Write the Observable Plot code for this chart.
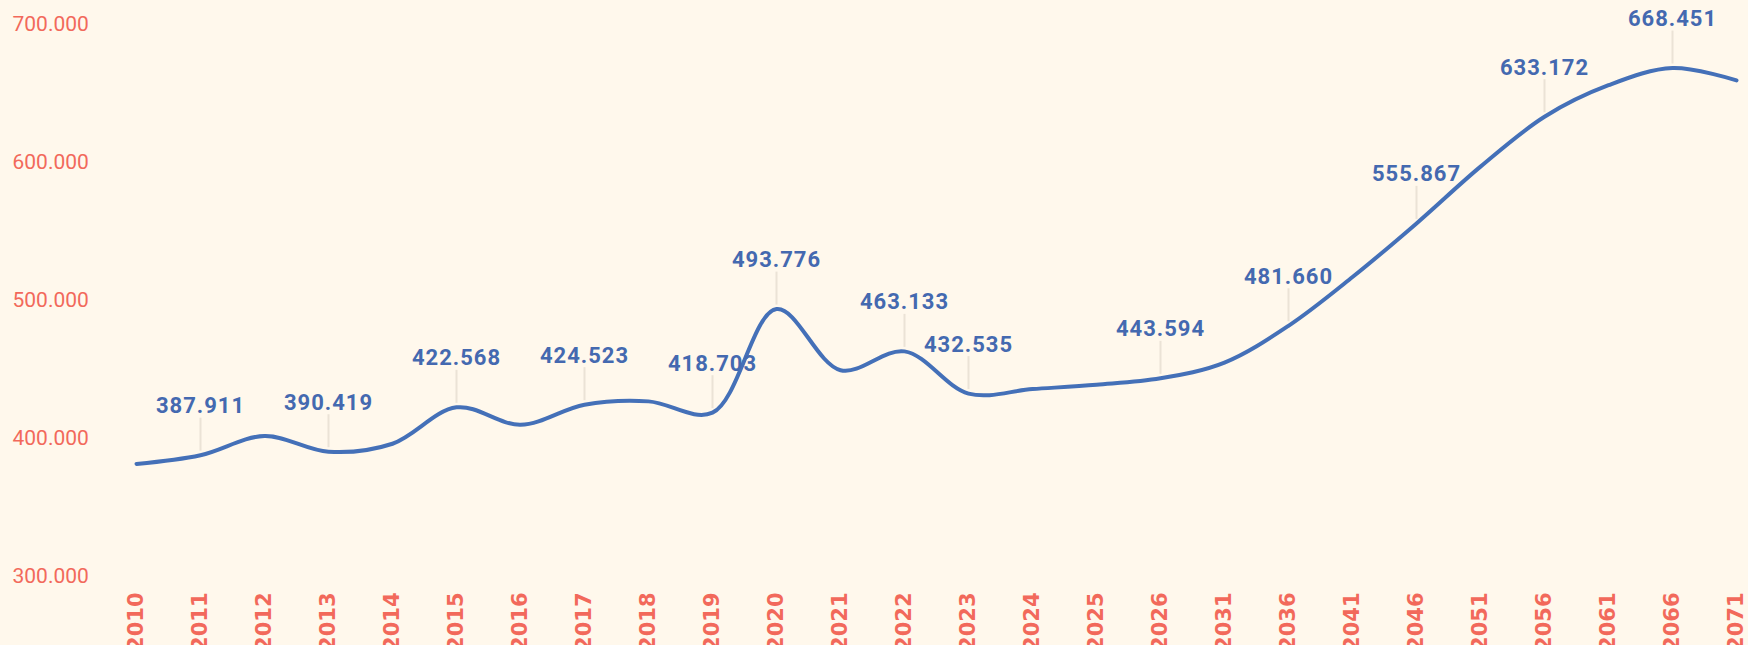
<!DOCTYPE html>
<html>
<head>
<meta charset="utf-8">
<script src="https://cdn.jsdelivr.net/npm/d3@7"></script>
<script src="https://cdn.jsdelivr.net/npm/@observablehq/plot@0.6"></script>
<style>
  html, body { margin: 0; padding: 0; background: #fff8ec; }
  #chart svg { display: block; background: #fff8ec; }
</style>
</head>
<body>
<div id="chart"></div>
<script>
const years = ["2010","2011","2012","2013","2014","2015","2016","2017","2018","2019","2020","2021","2022","2023","2024","2025","2026","2031","2036","2041","2046","2051","2056","2061","2066","2071"];
const values = [381600,387911,401800,390419,396200,422568,410000,424523,426900,418703,493776,449500,463133,432535,435800,439000,443594,455000,481660,517000,555867,597000,633172,656000,668451,659500];
const labeledYears = ["2011","2013","2015","2017","2019","2020","2022","2023","2026","2036","2046","2056","2066"];
const yTicks = [300000,400000,500000,600000,700000];

const data = years.map((y, i) => ({year: y, value: values[i]}));
const labeled = data.filter(d => labeledYears.includes(d.year));
const fmt = d3.formatLocale({decimal: ",", thousands: ".", grouping: [3], currency: ["", ""]}).format(",.0f");

const W = 1748, H = 645;
const red = "#f2695b", blue = "#4470b8";

const chart = Plot.plot({
  width: W,
  height: H,
  marginLeft: 133,
  marginRight: 9,
  marginTop: 24,
  marginBottom: 69,
  style: {background: "#fff8ec", overflow: "visible"},
  x: {type: "point", domain: years, padding: 0},
  y: {domain: [300000, 700000]},
  marks: [
    Plot.axisY({ticks: yTicks, tickSize: 0, tickPadding: 121, textAnchor: "start", tickFormat: fmt,
      fontSize: 21, fontFamily: "Roboto", fill: red, fontWeight: 400, label: null}),
    Plot.axisX({tickSize: 0, tickRotate: -90, tickPadding: 16, fontSize: 21,
      fontFamily: "DejaVu Sans", fontWeight: "bold", fill: red, label: null}),
    Plot.ruleX(labeled, {x: "year", y1: "value", y2: "value", insetTop: -37, insetBottom: 4,
      stroke: "#ebe3d6", strokeWidth: 2}),
    Plot.line(data, {x: "year", y: "value", curve: "catmull-rom", stroke: blue, strokeWidth: 4}),
    Plot.text(labeled, {x: "year", y: "value", text: d => fmt(d.value), dy: -49,
      fontSize: 22, fontFamily: "Roboto", fontWeight: "bold", fill: "#4469b0",
      style: "letter-spacing: 1px"})
  ]
});
chart.querySelectorAll("text").forEach(t => {
  if (t.closest("g[aria-label='text']")) t.style.letterSpacing = "1px";
});
document.getElementById("chart").appendChild(chart);
</script>
</body>
</html>
